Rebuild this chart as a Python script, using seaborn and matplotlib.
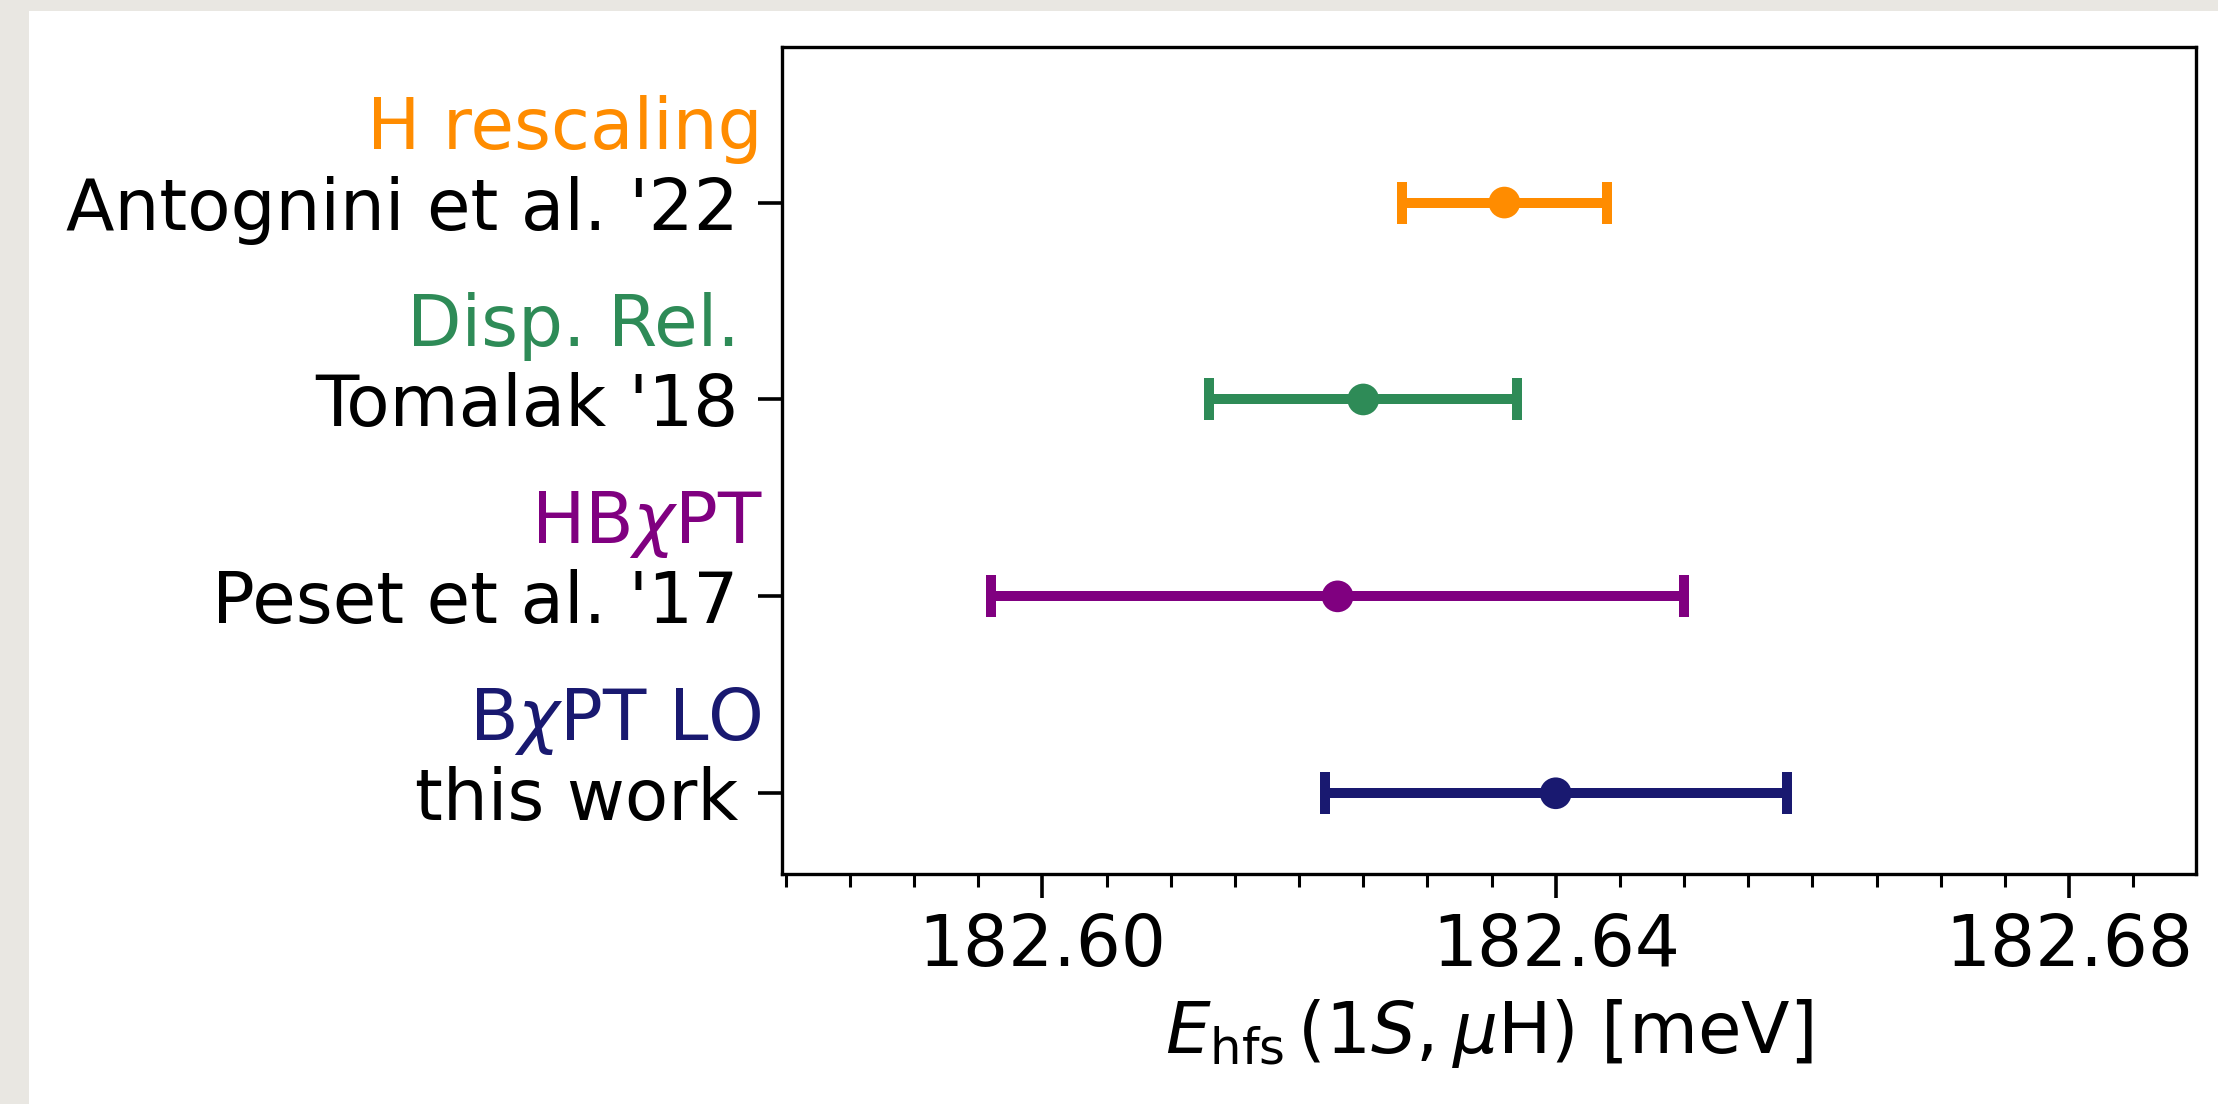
import matplotlib
matplotlib.use("Agg")
import matplotlib.pyplot as plt
from matplotlib.patches import Rectangle
from matplotlib.ticker import MultipleLocator
import matplotlib.transforms as mtransforms
import seaborn as sns
import pandas as pd

# ---- data ----
authors = ["Antognini et al. '22", "Tomalak '18", "Peset et al. '17", "this work"]
methods = ["H rescaling", "Disp. Rel.", r"HB$\chi$PT", r"B$\chi$PT LO"]
values = [182.636, 182.625, 182.623, 182.640]
err_lo = [0.008, 0.012, 0.027, 0.018]
err_hi = [0.008, 0.012, 0.027, 0.018]
colors = ["#FF8C00", "#2E8B57", "#800080", "#191970"]
xticks = [182.60, 182.64, 182.68]
xtick_labels = ["182.60", "182.64", "182.68"]

# layout: right edge of the coloured method labels (axes fraction)
method_x = [-0.0135, -0.0298, -0.0135, -0.0145]

sns.set_theme(style="ticks")
plt.rcParams["font.family"] = ["DejaVu Sans"]
plt.rcParams["mathtext.fontset"] = "dejavusans"
plt.rcParams["text.color"] = "black"
plt.rcParams["axes.labelcolor"] = "black"

FS = 25.5
fig = plt.figure(figsize=(2218 / 200, 1104 / 200), dpi=200)
fig.patch.set_facecolor("#e9e7e2")
bg = Rectangle((29 / 2218, 0), 1 - 29 / 2218, 1 - 11 / 1104,
               transform=fig.transFigure, facecolor="white",
               edgecolor="none", zorder=-10)
fig.patches.append(bg)

ax = fig.add_axes([782 / 2218, 1 - 874 / 1104, (2196 - 782) / 2218, (874 - 47) / 1104])
ax.set_zorder(5)
ax.set_facecolor("white")

n = len(authors)
ypos = [n - 1 - i for i in range(n)]
df = pd.DataFrame({"author": authors, "value": values, "y": ypos})

for i in range(n):
    ax.errorbar(values[i], ypos[i], xerr=[[err_lo[i]], [err_hi[i]]], fmt="none",
                ecolor=colors[i], elinewidth=3.6, capsize=7.5, capthick=3.6, zorder=2)

sns.scatterplot(data=df, x="value", y="y", hue="author", palette=colors,
                s=130, linewidth=0, legend=False, ax=ax, zorder=3)

ax.set_xlim(182.5797, 182.6899)
ax.set_ylim(-0.41, 3.79)
ax.set_xticks(xticks)
ax.set_xticklabels(xtick_labels)
ax.xaxis.set_minor_locator(MultipleLocator(0.005))
ax.set_yticks(ypos)
ax.set_yticklabels(authors)

ax.tick_params(axis="both", which="major", labelsize=FS, length=8.6, width=1.3,
               color="black", labelcolor="black")
ax.tick_params(axis="x", which="major", pad=5)
ax.tick_params(axis="y", which="major", pad=7)
ax.tick_params(axis="x", which="minor", length=4.5, width=1.1, color="black")
for sp in ax.spines.values():
    sp.set_linewidth(1.2)
    sp.set_color("black")
    sp.set_visible(True)

ax.set_xlabel(r"$E_{\rm hfs}\,(1S, \mu{\rm H})$ [meV]", fontsize=FS, labelpad=6,
              color="black")
ax.set_ylabel("")

trans = mtransforms.blended_transform_factory(ax.transAxes, ax.transData)
for i in range(n):
    ax.text(method_x[i], ypos[i] + 0.273, methods[i], color=colors[i], fontsize=FS,
            ha="right", va="baseline", transform=trans, clip_on=False)

fig.savefig("out.png", dpi=200, facecolor=fig.get_facecolor())
